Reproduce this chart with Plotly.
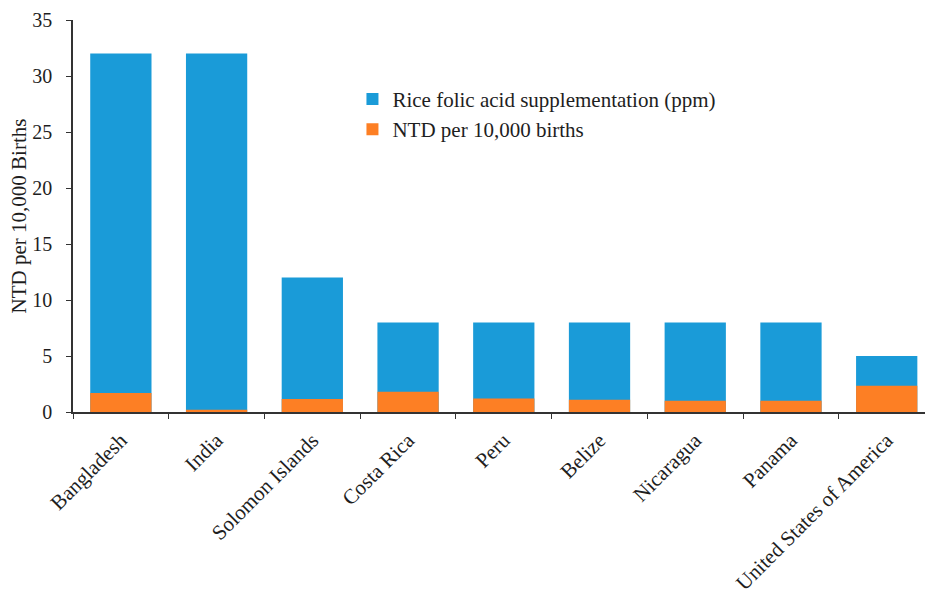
import plotly.graph_objects as go

countries = ["Bangladesh", "India", "Solomon Islands", "Costa Rica", "Peru",
             "Belize", "Nicaragua", "Panama", "United States of America"]
rice_folic_ppm = [32, 32, 12, 8, 8, 8, 8, 8, 5]
ntd_per_10000 = [1.7, 0.2, 1.15, 1.8, 1.2, 1.1, 1.0, 1.0, 2.35]

SERIF = "Palatino Linotype, Book Antiqua, Palatino, Liberation Serif, serif"
BLUE = "#1a9bd8"
ORANGE = "#fd7f24"
INK = "#1e1e1e"

fig = go.Figure()
fig.add_trace(go.Bar(
    x=countries, y=rice_folic_ppm, name="Rice folic acid supplementation (ppm)",
    marker=dict(color=BLUE, line=dict(width=0)), width=0.64,
))
fig.add_trace(go.Bar(
    x=countries, y=ntd_per_10000, name="NTD per 10,000 births",
    marker=dict(color=ORANGE, line=dict(width=0)), width=0.64,
))

fig.update_layout(
    width=925, height=595,
    margin=dict(l=73, r=0, t=20, b=183),
    barmode="overlay",
    plot_bgcolor="white", paper_bgcolor="white",
    font=dict(family=SERIF, size=20, color=INK),
    showlegend=True,
    legend=dict(
        x=0.328, y=0.85, xanchor="left", yanchor="top",
        font=dict(family=SERIF, size=21, color=INK),
        bgcolor="rgba(0,0,0,0)", tracegroupgap=0, itemsizing="constant",
    ),
    xaxis=dict(
        type="category", range=[-0.5, 8.4],
        showline=True, linecolor="#333333", linewidth=1.5,
        ticks="outside", tickson="boundaries", ticklen=5, tickcolor="#333333",
        tickangle=-45, showgrid=False, ticklabelstandoff=6,
        tickfont=dict(family=SERIF, size=21, color=INK),
    ),
    yaxis=dict(
        range=[0, 35], dtick=5,
        showline=True, linecolor="#333333", linewidth=1.5,
        ticks="outside", ticklen=5, tickcolor="#333333",
        showgrid=False, zeroline=False, ticklabelstandoff=10,
        tickfont=dict(family=SERIF, size=20, color=INK),
        title=dict(text="NTD per 10,000 Births", standoff=0,
                   font=dict(family=SERIF, size=21, color=INK)),
    ),
)

fig.write_html("out.html")
